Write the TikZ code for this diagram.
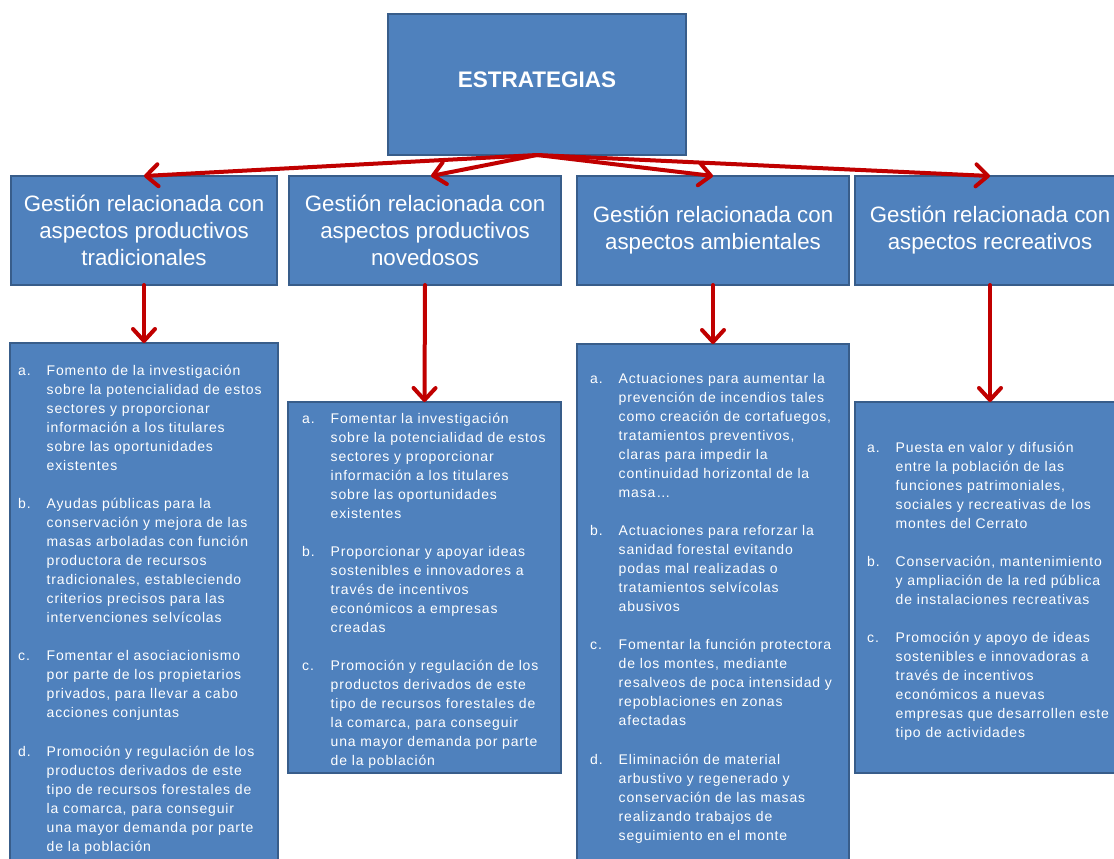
\documentclass[tikz,border=0pt]{standalone}
\usepackage{fontspec}
\setmainfont{Liberation Sans}
\newfontfamily\bodyfont[LetterSpace=6]{Liberation Sans}
\usetikzlibrary{arrows.meta}
\definecolor{boxfill}{HTML}{4F81BD}
\definecolor{boxline}{HTML}{385D8A}
\definecolor{arrowred}{HTML}{C00000}
\newcommand\lbl[1]{\makebox[28.5pt][l]{#1}}
\begin{document}
\begin{tikzpicture}[x=1pt,y=-1pt,
  box/.style={draw=boxline, line width=2.2pt, fill=boxfill, inner sep=0pt, outer sep=0pt},
  hdr/.style={box, text=white, align=center, font=\fontsize{22.3}{27}\selectfont},
  conn/.style={draw=arrowred, line width=4pt, line cap=round, -{Straight Barb[length=12pt,width=22pt,round]}},
  body/.style={text=white, inner sep=0pt, anchor=base west, font=\bodyfont\fontsize{14}{19.05}\selectfont}]
\clip (0,0) rectangle (1114,859);
\fill[white] (0,0) rectangle (1114,859);

% top box
\node[box, minimum width=298pt, minimum height=141pt] (top) at (537,84.5) {};
\node[text=white, font=\bfseries\fontsize{22.5}{26}\selectfont] (toptext) at (537,80) {ESTRATEGIAS};

% header boxes
\node[hdr, minimum width=266pt, minimum height=109pt] (h1) at (144,230.5) {Gestión relacionada con\\aspectos productivos\\tradicionales};
\node[hdr, minimum width=272pt, minimum height=109pt] (h2) at (425,230.5) {Gestión relacionada con\\aspectos productivos\\novedosos};
\node[hdr, minimum width=272pt, minimum height=109pt] (h3) at (713,230.5) {Gestión relacionada con\\aspectos ambientales};
\node[hdr, minimum width=270pt, minimum height=109pt] (h4) at (990,230.5) {Gestión relacionada con\\aspectos recreativos};

% content boxes
\node[box, minimum width=268pt, minimum height=557pt] (c1) at (144,621.5) {};
\node[box, minimum width=273pt, minimum height=371pt] (c2) at (424.5,587.5) {};
\node[box, minimum width=272pt, minimum height=556pt] (c3) at (713,622) {};
\node[box, minimum width=270pt, minimum height=371pt] (c4) at (990,587.5) {};

% arrows
\draw[conn] (top.south) -- (h1.north);
\draw[conn] (top.south) -- ([xshift=6pt]h2.north);
\draw[conn] (top.south) -- (h3.north);
\draw[conn] (top.south) -- (h4.north);
\draw[conn] (h1.south) -- (c1.north);
\draw[conn] (h2.south) -- (c2.north);
\draw[conn] (h3.south) -- (c3.north);
\draw[conn] (h4.south) -- (c4.north);

% texts
\node[body] (t1) at (18,375) {\begin{tabular}[t]{@{}l@{}l@{}}
\lbl{a.} & Fomento de la investigación\\
 & sobre la potencialidad de estos\\
 & sectores y proporcionar\\
 & información a los titulares\\
 & sobre las oportunidades\\
 & existentes\\
 & \\
\lbl{b.} & Ayudas públicas para la\\
 & conservación y mejora de las\\
 & masas arboladas con función\\
 & productora de recursos\\
 & tradicionales, estableciendo\\
 & criterios precisos para las\\
 & intervenciones selvícolas\\
 & \\
\lbl{c.} & Fomentar el asociacionismo\\
 & por parte de los propietarios\\
 & privados, para llevar a cabo\\
 & acciones conjuntas\\
 & \\
\lbl{d.} & Promoción y regulación de los\\
 & productos derivados de este\\
 & tipo de recursos forestales de\\
 & la comarca, para conseguir\\
 & una mayor demanda por parte\\
 & de la población
\end{tabular}};

\node[body] (t2) at (302,423) {\begin{tabular}[t]{@{}l@{}l@{}}
\lbl{a.} & Fomentar la investigación\\
 & sobre la potencialidad de estos\\
 & sectores y proporcionar\\
 & información a los titulares\\
 & sobre las oportunidades\\
 & existentes\\
 & \\
\lbl{b.} & Proporcionar y apoyar ideas\\
 & sostenibles e innovadores a\\
 & través de incentivos\\
 & económicos a empresas\\
 & creadas\\
 & \\
\lbl{c.} & Promoción y regulación de los\\
 & productos derivados de este\\
 & tipo de recursos forestales de\\
 & la comarca, para conseguir\\
 & una mayor demanda por parte\\
 & de la población
\end{tabular}};

\node[body] (t3) at (590,383) {\begin{tabular}[t]{@{}l@{}l@{}}
\lbl{a.} & Actuaciones para aumentar la\\
 & prevención de incendios tales\\
 & como creación de cortafuegos,\\
 & tratamientos preventivos,\\
 & claras para impedir la\\
 & continuidad horizontal de la\\
 & masa…\\
 & \\
\lbl{b.} & Actuaciones para reforzar la\\
 & sanidad forestal evitando\\
 & podas mal realizadas o\\
 & tratamientos selvícolas\\
 & abusivos\\
 & \\
\lbl{c.} & Fomentar la función protectora\\
 & de los montes, mediante\\
 & resalveos de poca intensidad y\\
 & repoblaciones en zonas\\
 & afectadas\\
 & \\
\lbl{d.} & Eliminación de material\\
 & arbustivo y regenerado y\\
 & conservación de las masas\\
 & realizando trabajos de\\
 & seguimiento en el monte
\end{tabular}};

\node[body] (t4) at (867,452) {\begin{tabular}[t]{@{}l@{}l@{}}
\lbl{a.} & Puesta en valor y difusión\\
 & entre la población de las\\
 & funciones patrimoniales,\\
 & sociales y recreativas de los\\
 & montes del Cerrato\\
 & \\
\lbl{b.} & Conservación, mantenimiento\\
 & y ampliación de la red pública\\
 & de instalaciones recreativas\\
 & \\
\lbl{c.} & Promoción y apoyo de ideas\\
 & sostenibles e innovadoras a\\
 & través de incentivos\\
 & económicos a nuevas\\
 & empresas que desarrollen este\\
 & tipo de actividades
\end{tabular}};
\end{tikzpicture}
\end{document}
